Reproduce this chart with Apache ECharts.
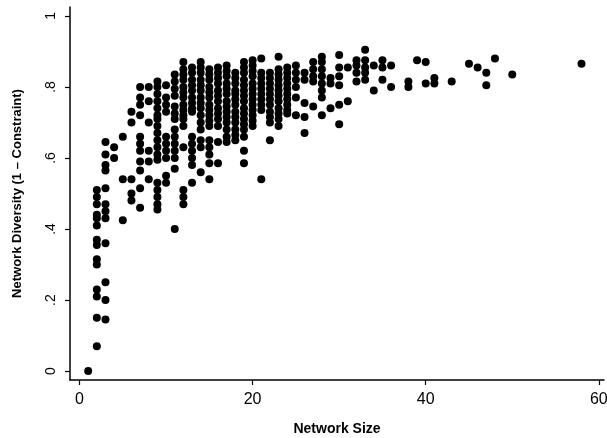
<!DOCTYPE html>
<html>
<head>
<meta charset="utf-8">
<script src="https://cdn.jsdelivr.net/npm/echarts@6/dist/echarts.min.js"></script>
<style>
html,body{margin:0;padding:0;background:#fff;}
#chart{width:607px;height:438px;}
</style>
</head>
<body>
<div id="chart"></div>
<script>
// Network size (x) for each column of points
const networkSizes = [1,2,3,4,5,6,7,8,9,10,11,12,13,14,15,16,17,18,19,20,21,22,23,24,25,26,27,28,29,30,31,32,33,34,35,36,38,39,40,41,43,45,46,47,48,50,58];
// Network diversity (1 - constraint) values observed at each network size
const diversityByColumn = [
  [0],
  [.51,.49,.47,.44,.43,.41,.37,.355,.315,.30,.23,.21,.15,.07],
  [.645,.61,.58,.565,.515,.47,.45,.43,.36,.25,.20,.145],
  [.63,.60],
  [.66,.54,.425],
  [.73,.70,.54,.50,.48],
  [.80,.77,.75,.72,.66,.64,.62,.59,.565,.515,.46],
  [.80,.76,.70,.62,.59,.54],
  [.815,.80,.78,.76,.74,.72,.71,.69,.67,.65,.63,.61,.595,.53,.51,.49,.47,.455],
  [.805,.77,.75,.73,.66,.64,.62,.60,.55,.53],
  [.835,.815,.795,.775,.745,.725,.71,.68,.66,.64,.62,.60,.57,.40],
  [.87,.85,.835,.82,.80,.785,.77,.75,.735,.72,.71,.69,.63,.51,.49,.47],
  [.855,.84,.82,.805,.79,.77,.755,.74,.73,.66,.64,.62,.60,.58,.53],
  [.87,.855,.84,.82,.805,.79,.77,.755,.74,.72,.70,.68,.65,.63,.56],
  [.85,.835,.82,.80,.785,.77,.75,.735,.72,.705,.69,.65,.63,.61,.585,.54],
  [.855,.84,.825,.81,.79,.775,.76,.74,.725,.71,.69,.645,.585],
  [.86,.845,.83,.81,.795,.78,.76,.745,.73,.715,.70,.68,.66,.645],
  [.84,.825,.81,.79,.78,.765,.75,.73,.715,.70,.68,.665,.65],
  [.87,.855,.84,.82,.805,.79,.775,.76,.74,.725,.71,.695,.68,.66,.62,.585],
  [.875,.86,.845,.83,.81,.795,.78,.765,.75,.735,.72,.705,.69],
  [.88,.84,.825,.81,.795,.78,.765,.75,.735,.54],
  [.84,.825,.81,.795,.78,.765,.75,.73,.715,.70,.65],
  [.885,.85,.835,.82,.805,.79,.775,.76,.74,.725,.71,.69],
  [.855,.84,.825,.81,.795,.78,.765,.75,.735,.725],
  [.86,.84,.82,.80,.77,.72],
  [.84,.82,.755,.715,.67],
  [.87,.85,.83,.815,.745],
  [.885,.87,.85,.83,.81,.79,.77,.72],
  [.825,.81,.74],
  [.89,.855,.83,.805,.75,.695],
  [.855,.76],
  [.875,.86,.84,.815],
  [.905,.875,.855,.84,.82],
  [.86,.79],
  [.875,.855,.82],
  [.86,.80],
  [.815,.80],
  [.875],
  [.87,.81],
  [.825,.81],
  [.815],
  [.865],
  [.855],
  [.84,.805],
  [.88],
  [.835],
  [.865]
];
const xTicks = [0,20,40,60];
const yTicks = [0,0.2,0.4,0.6,0.8,1];
const yTickLabels = ['0','.2','.4','.6','.8','1'];

const points = [];
networkSizes.forEach((s, i) => {
  diversityByColumn[i].forEach(v => points.push([s, v]));
});

const chart = echarts.init(document.getElementById('chart'), null, {renderer: 'canvas'});
chart.setOption({
  animation: false,
  backgroundColor: '#fff',
  grid: {left: 70, right: 3, top: 7, bottom: 58, containLabel: false, outerBoundsMode: 'none'},
  xAxis: {
    type: 'value',
    min: -1.1, max: 60.6,
    name: 'Network Size',
    nameLocation: 'middle',
    nameGap: 42,
    nameTextStyle: {fontFamily: 'Liberation Sans, Arial, sans-serif', fontSize: 14, fontWeight: 900, color: '#000'},
    axisLine: {show: true, onZero: false, lineStyle: {color: '#000', width: 1.5}},
    axisTick: {show: true, length: 5, customValues: xTicks, lineStyle: {color: '#000', width: 1.2}},
    axisLabel: {show: true, customValues: xTicks, margin: 12, fontSize: 16, color: '#000', fontFamily: 'Liberation Sans, Arial, sans-serif'},
    splitLine: {show: false}
  },
  yAxis: {
    type: 'value',
    min: -0.025, max: 1.025,
    name: 'Network Diversity (1 \u2013 Constraint)',
    nameLocation: 'middle',
    nameGap: 46,
    nameRotate: 90,
    nameTextStyle: {fontFamily: 'Liberation Sans, Arial, sans-serif', fontSize: 13, fontWeight: 'bold', color: '#000'},
    axisLine: {show: true, onZero: false, lineStyle: {color: '#000', width: 1.5}},
    axisTick: {show: true, length: 5, customValues: yTicks, lineStyle: {color: '#000', width: 1.2}},
    axisLabel: {
      show: true, customValues: yTicks, rotate: 90, margin: 12, fontSize: 14, color: '#000',
      fontFamily: 'Liberation Sans, Arial, sans-serif',
      formatter: v => { const i = yTicks.findIndex(t => Math.abs(t - v) < 1e-6); return i >= 0 ? yTickLabels[i] : ''; }
    },
    splitLine: {show: false}
  },
  series: [{
    type: 'scatter',
    data: points,
    symbol: 'circle',
    symbolSize: 8,
    itemStyle: {color: '#000', opacity: 1},
    emphasis: {disabled: true}
  }]
});
</script>
</body>
</html>
